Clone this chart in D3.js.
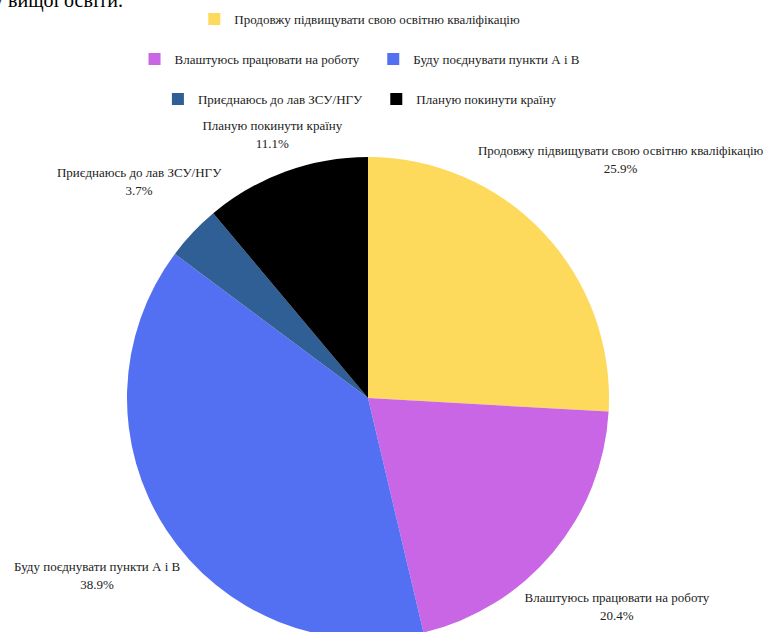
<!DOCTYPE html>
<html>
<head>
<meta charset="utf-8">
<script src="https://cdn.jsdelivr.net/npm/d3@7"></script>
<style>
  html, body { margin: 0; padding: 0; background: #fff; overflow: hidden; }
  svg { display: block; }
  text { font-family: "Liberation Serif", "DejaVu Serif", serif; }
</style>
</head>
<body>
<svg id="chart" width="764" height="632"></svg>
<script>
// Answer options and their shares (%)
const categories = [
  "Продовжу підвищувати свою освітню кваліфікацію",
  "Влаштуюсь працювати на роботу",
  "Буду поєднувати пункти А і В",
  "Приєднаюсь до лав ЗСУ/НГУ",
  "Планую покинути країну"
];
const shares = [25.9, 20.4, 38.9, 3.7, 11.1];
const percentLabels = ["25.9%", "20.4%", "38.9%", "3.7%", "11.1%"];
const colors = ["#FDD95C", "#C866E6", "#5470F2", "#2F5F94", "#000000"];
const leadText = "у вищої освіти.";

const W = 764, H = 632;
const svg = d3.select("#chart");

// Trailing line of the preceding paragraph
svg.append("text")
  .attr("x", -7).attr("y", 7)
  .attr("font-size", 20)
  .attr("fill", "#000")
  .text(leadText);

// ---- Legend (wrapping, centred rows) ----
const legendFont = 13, sw = 12, swGap = 14, itemGap = 28, maxRow = 500;
const legend = svg.append("g").attr("font-size", legendFont);
const measure = legend.append("text").attr("visibility", "hidden");
const items = categories.map((c, i) => {
  measure.text(c);
  return { i, label: c, w: sw + swGap + measure.node().getComputedTextLength() };
});
measure.remove();
const rows = [];
items.forEach(it => {
  const row = rows[rows.length - 1];
  if (row && row.w + itemGap + it.w <= maxRow) { row.items.push(it); row.w += itemGap + it.w; }
  else rows.push({ items: [it], w: it.w });
});
const legendCx = 364, legendY0 = 19, rowStep = 40;
rows.forEach((row, r) => {
  let x = legendCx - row.w / 2;
  const y = legendY0 + r * rowStep;
  row.items.forEach(it => {
    const g = legend.append("g").attr("transform", `translate(${x},${y})`);
    g.append("rect").attr("x", 0).attr("y", -sw / 2).attr("width", sw).attr("height", sw)
      .attr("fill", colors[it.i]);
    g.append("text").attr("x", sw + swGap).attr("y", 0).attr("dy", "0.35em")
      .attr("fill", "#222").text(it.label);
    x += it.w + itemGap;
  });
});

// ---- Pie ----
const cx = 368, cy = 398, R = 241;
const pie = d3.pie().sort(null).value(d => d)(shares);
const arc = d3.arc().innerRadius(0).outerRadius(R);
const pg = svg.append("g").attr("transform", `translate(${cx},${cy})`);
pg.selectAll("path").data(pie).join("path")
  .attr("d", arc)
  .attr("fill", (d, i) => colors[i]);

// ---- Outside labels: two-line block pushed out along the mid-angle until it clears the pie ----
const labelFont = 13, lineStep = 18, clearGap = 6;
const lg = svg.append("g").attr("font-size", labelFont).attr("fill", "#222");
pie.forEach((d, i) => {
  const t = lg.append("text").attr("text-anchor", "middle");
  const l1 = t.append("tspan").text(categories[i]);
  const l2 = t.append("tspan").text(percentLabels[i]);
  const w = Math.max(l1.node().getComputedTextLength(), l2.node().getComputedTextLength());
  const h = lineStep + labelFont + 4;
  const a = (d.startAngle + d.endAngle) / 2;
  const dx = Math.sin(a), dy = -Math.cos(a);
  const clearAt = dist => {
    const bx = dx * dist, by = dy * dist;
    const nx = Math.max(bx - w / 2, Math.min(0, bx + w / 2));
    const ny = Math.max(by - h / 2, Math.min(0, by + h / 2));
    return Math.hypot(nx, ny) >= R + clearGap;
  };
  let lo = 0, hi = 800;
  for (let k = 0; k < 40; k++) { const m = (lo + hi) / 2; if (clearAt(m)) hi = m; else lo = m; }
  const bx = cx + dx * hi, by = cy + dy * hi;
  l1.attr("x", bx).attr("y", by - lineStep / 2).attr("dy", "0.35em");
  l2.attr("x", bx).attr("y", by + lineStep / 2).attr("dy", "0.35em");
});
</script>
</body>
</html>
